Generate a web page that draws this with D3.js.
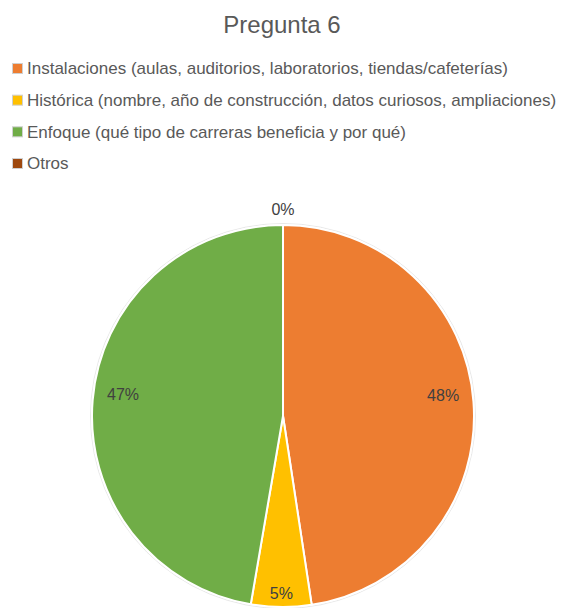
<!DOCTYPE html>
<html>
<head>
<meta charset="utf-8">
<script src="https://cdn.jsdelivr.net/npm/d3@7"></script>
<style>
  html, body { margin: 0; padding: 0; background: #fff; }
  svg { display: block; }
</style>
</head>
<body>
<svg id="chart" width="561" height="608"></svg>
<script>
const title = "Pregunta 6";
const categories = [
  "Instalaciones (aulas, auditorios, laboratorios, tiendas/cafeterías)",
  "Histórica (nombre, año de construcción, datos curiosos, ampliaciones)",
  "Enfoque (qué tipo de carreras beneficia y por qué)",
  "Otros"
];
const values = [47.6, 5.1, 47.3, 0];
const labels = ["48%", "5%", "47%", "0%"];
const colors = ["#ED7D31", "#FFC000", "#70AD47", "#9E480E"];

const svg = d3.select("#chart");
const W = 561, H = 608;
const font = "'Liberation Sans', Arial, sans-serif";

svg.append("rect").attr("width", W).attr("height", H).attr("fill", "#fff");

svg.append("text")
  .attr("x", 282).attr("y", 33)
  .attr("text-anchor", "middle")
  .attr("font-family", font)
  .attr("font-size", 24)
  .attr("fill", "#595959")
  .text(title);

// Legend
const legend = svg.append("g");
const rowY = d3.scalePoint().domain(d3.range(categories.length)).range([68, 163]);
categories.forEach((c, i) => {
  const y = rowY(i);
  legend.append("rect")
    .attr("x", 12.5).attr("y", y - 4.5)
    .attr("width", 10).attr("height", 10)
    .attr("fill", colors[i])
    .attr("stroke", "#d0d0d0").attr("stroke-width", 1);
  legend.append("text")
    .attr("x", 27).attr("y", y)
    .attr("dy", "0.38em")
    .attr("font-family", font)
    .attr("font-size", 17)
    .attr("fill", "#595959")
    .text(c);
});

// Pie
const cx = 283, cy = 416, R = 191;
const pie = d3.pie().sort(null).value(d => d);
const arcs = pie(values);
const arc = d3.arc().innerRadius(0).outerRadius(R);

const g = svg.append("g").attr("transform", `translate(${cx},${cy})`);

g.append("circle").attr("r", R + 1.5).attr("fill", "none")
  .attr("stroke", "#e8e8e8").attr("stroke-width", 1);

g.selectAll("path.slice")
  .data(arcs)
  .join("path")
  .attr("class", "slice")
  .attr("d", arc)
  .attr("fill", (d, i) => colors[i])
  .attr("stroke", "#fff")
  .attr("stroke-width", 2)
  .attr("stroke-linejoin", "round");

g.selectAll("text.lbl")
  .data(arcs)
  .join("text")
  .attr("class", "lbl")
  .attr("transform", d => {
    const span = d.endAngle - d.startAngle;
    const mid = (d.startAngle + d.endAngle) / 2;
    let r;
    if (span === 0) r = R + 16;
    else if (span < 0.5) r = R * 0.93;
    else r = R * 0.845;
    const a = span >= 0.5 ? mid - 0.05 * Math.sign(Math.sin(mid)) : mid;
    return `translate(${r * Math.sin(a)},${-r * Math.cos(a)})`;
  })
  .attr("text-anchor", "middle")
  .attr("dy", "0.35em")
  .attr("font-family", font)
  .attr("font-size", 16)
  .attr("fill", "#404040")
  .text((d, i) => labels[i]);
</script>
</body>
</html>
